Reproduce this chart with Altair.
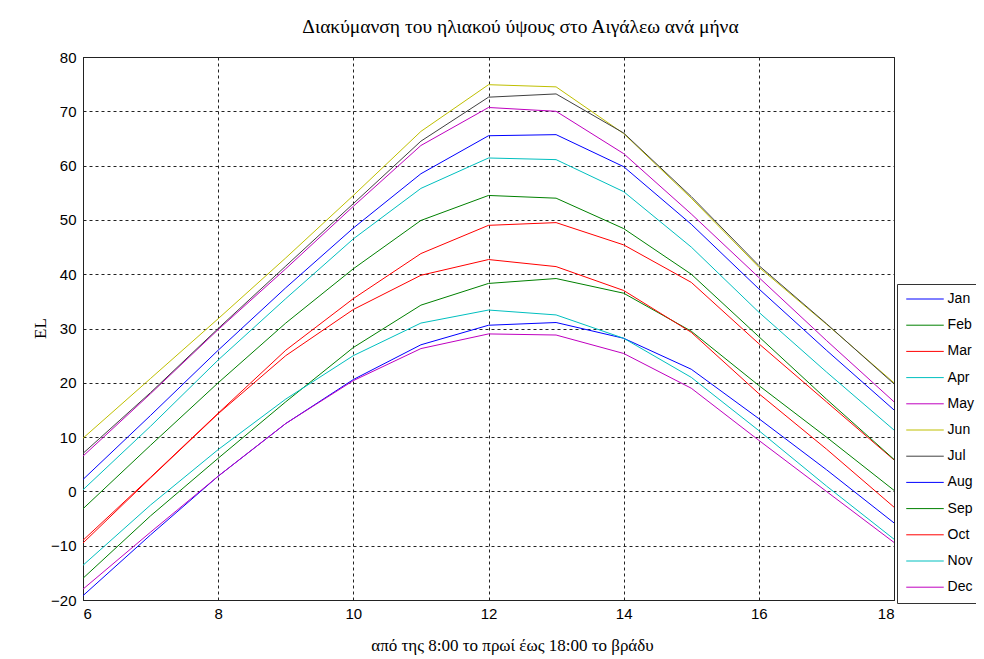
import altair as alt
import pandas as pd

hours = list(range(6, 19))
months = ["Jan", "Feb", "Mar", "Apr", "May", "Jun", "Jul", "Aug", "Sep", "Oct", "Nov", "Dec"]
colors = ["#0000FF", "#008000", "#FF0000", "#00BFBF", "#BF00BF", "#BFBF00",
          "#404040", "#0000FF", "#008000", "#FF0000", "#00BFBF", "#BF00BF"]

el_jan = [-19.2, -8.0, 2.8, 12.5, 20.6, 27.0, 30.6, 31.1, 28.2, 22.5, 13.4, 4.0, -5.8]
el_feb = [-16.0, -4.5, 6.1, 16.5, 26.5, 34.3, 38.3, 39.2, 36.5, 29.5, 19.5, 10.0, 0.2]
el_mar = [-9.0, 2.6, 14.4, 26.0, 35.5, 43.8, 49.0, 49.5, 45.4, 38.5, 27.2, 16.5, 5.8]
el_apr = [0.3, 12.0, 24.2, 35.5, 46.5, 55.8, 61.4, 61.1, 55.2, 45.0, 33.0, 22.0, 11.3]
el_may = [6.5, 18.0, 29.8, 41.0, 52.5, 63.7, 70.7, 70.0, 62.2, 51.1, 39.4, 27.8, 16.5]
el_jun = [9.8, 20.8, 31.8, 43.0, 54.5, 66.3, 74.9, 74.5, 65.9, 54.0, 41.3, 30.8, 20.0]
el_jul = [7.0, 18.2, 30.0, 41.5, 53.0, 64.5, 72.6, 73.2, 66.0, 54.3, 41.6, 30.9, 19.8]
el_aug = [2.2, 14.0, 26.0, 37.5, 48.5, 58.5, 65.5, 65.7, 59.8, 49.2, 37.3, 26.0, 15.0]
el_sep = [-3.2, 8.5, 20.0, 31.0, 41.0, 49.9, 54.5, 54.0, 48.4, 40.0, 28.5, 17.0, 5.9]
el_oct = [-9.5, 2.5, 14.3, 25.0, 33.5, 39.8, 42.7, 41.4, 37.0, 29.3, 18.0, 7.8, -2.9]
el_nov = [-13.6, -2.5, 7.7, 17.0, 25.0, 31.0, 33.4, 32.5, 28.2, 21.0, 11.2, 1.0, -8.8]
el_dec = [-18.0, -7.5, 2.8, 12.5, 20.4, 26.3, 29.0, 28.8, 25.4, 19.0, 9.4, 0.0, -9.4]

series = [el_jan, el_feb, el_mar, el_apr, el_may, el_jun,
          el_jul, el_aug, el_sep, el_oct, el_nov, el_dec]

rows = []
for m, vals in zip(months, series):
    for h, v in zip(hours, vals):
        rows.append({"hour": h, "EL": v, "month": m})
df = pd.DataFrame(rows)

tick_font = "Liberation Sans, Arial"
serif = "Liberation Serif, Times New Roman, DejaVu Serif"

chart = alt.Chart(df).mark_line(strokeWidth=1, clip=True).encode(
    x=alt.X("hour:Q",
            scale=alt.Scale(domain=[6, 18], nice=False, zero=False),
            axis=alt.Axis(values=[6, 8, 10, 12, 14, 16, 18], format="d",
                          title="από της 8:00 το πρωί έως 18:00 το βράδυ",
                          titleX=429, titleY=50, titleAlign="center",
                          titleBaseline="alphabetic", labelPadding=6)),
    y=alt.Y("EL:Q",
            scale=alt.Scale(domain=[-20, 80], nice=False, zero=False),
            axis=alt.Axis(values=list(range(-20, 81, 10)), format="d",
                          title="EL", titleX=-43, titleY=271,
                          titleAlign="center", titleBaseline="middle",
                          labelPadding=7)),
    color=alt.Color("month:N",
                    scale=alt.Scale(domain=months, range=colors),
                    sort=months,
                    legend=alt.Legend(title=None, orient="none",
                                      legendX=814, legendY=227,
                                      direction="vertical",
                                      symbolType="M-4,0H4", symbolSize=88,
                                      symbolStrokeWidth=1, symbolOffset=13,
                                      labelFont="Liberation Sans, Arial",
                                      labelFontSize=14, labelColor="#000",
                                      labelOffset=15.6, rowPadding=12.2,
                                      padding=8,
                                      strokeColor="#333", fillColor="white",
                                      cornerRadius=0)),
    detail="month:N",
).properties(
    width=811,
    height=543,
    background="white",
    title=alt.TitleParams(
        "Διακύμανση του ηλιακού ύψους στο Αιγάλεω ανά μήνα",
        font=serif, fontSize=19.5, fontWeight="normal", color="#000",
        anchor="middle", dx=32, dy=8, offset=6, baseline="alphabetic"),
    autosize=alt.AutoSizeParams(type="none"),
    padding={"left": 75, "top": 49, "right": 82, "bottom": 59},
).configure_view(
    stroke="#222", strokeWidth=1
).configure_axis(
    grid=True, gridDash=[3, 3], gridColor="#222", gridOpacity=1, gridWidth=1,
    domain=True, domainColor="#222", ticks=False,
    labelFont=tick_font, labelFontSize=15, labelColor="#000",
    titleFont=serif, titleFontSize=17, titleFontWeight="normal", titleColor="#000",
)

chart.save("out.html", embed_options={"renderer": "svg", "actions": False})
